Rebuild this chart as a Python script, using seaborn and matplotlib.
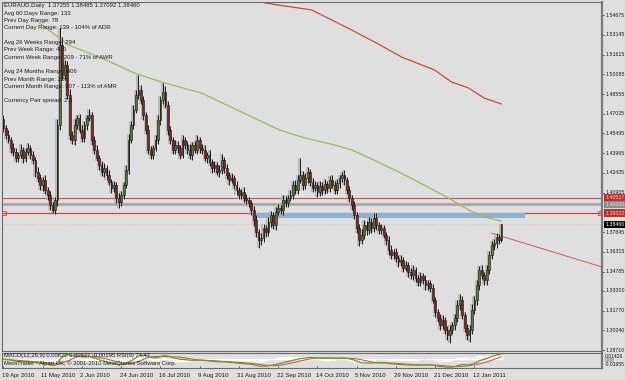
import numpy as np
import pandas as pd
import matplotlib
matplotlib.use("Agg")
import matplotlib.pyplot as plt
import seaborn as sns
from matplotlib.patches import Rectangle

# ---------------- data ----------------
first_open = 1.4660
closes = [
    1.4592, 1.4538, 1.4499, 1.4437, 1.4406, 1.4360, 1.4383, 1.4422, 1.4360, 1.4406,
    1.4437, 1.4383, 1.4344, 1.4251, 1.4205, 1.4150, 1.4189, 1.4112, 1.4073, 1.3995,
    1.3957, 1.4034, 1.4615, 1.5235, 1.5003, 1.5080, 1.4848, 1.4538, 1.4499, 1.4615,
    1.4670, 1.4577, 1.4515, 1.4615, 1.4670, 1.4693, 1.4499, 1.4422, 1.4360, 1.4305,
    1.4251, 1.4282, 1.4228, 1.4174, 1.4127, 1.4150, 1.4050, 1.4019, 1.4073, 1.4150,
    1.4267, 1.4499, 1.4615, 1.4732, 1.4848, 1.4887, 1.4809, 1.4693, 1.4577, 1.4422,
    1.4383, 1.4437, 1.4499, 1.4654, 1.4809, 1.4871, 1.4770, 1.4577, 1.4499, 1.4422,
    1.4460, 1.4437, 1.4383, 1.4499, 1.4460, 1.4422, 1.4383, 1.4460, 1.4422, 1.4499,
    1.4437, 1.4422, 1.4360, 1.4383, 1.4329, 1.4282, 1.4305, 1.4251, 1.4267, 1.4344,
    1.4282, 1.4228, 1.4189, 1.4205, 1.4150, 1.4112, 1.4073, 1.4096, 1.4050, 1.4034,
    1.4011, 1.3957, 1.3879, 1.3786, 1.3724, 1.3740, 1.3817, 1.3786, 1.3864, 1.3918,
    1.3840, 1.3941, 1.3972, 1.3957, 1.4034, 1.4011, 1.4050, 1.4073, 1.4150, 1.4112,
    1.4189, 1.4228, 1.4150, 1.4205, 1.4251, 1.4174, 1.4127, 1.4150, 1.4096, 1.4143,
    1.4112, 1.4158, 1.4127, 1.4189, 1.4150, 1.4112, 1.4166, 1.4205, 1.4228, 1.4189,
    1.4112, 1.4050, 1.3995, 1.3918, 1.3817, 1.3724, 1.3763, 1.3840, 1.3802, 1.3864,
    1.3817, 1.3895, 1.3840, 1.3802, 1.3817, 1.3763, 1.3724, 1.3647, 1.3608, 1.3631,
    1.3585, 1.3554, 1.3569, 1.3507, 1.3530, 1.3476, 1.3453, 1.3492, 1.3430, 1.3399,
    1.3445, 1.3414, 1.3375, 1.3391, 1.3352, 1.3259, 1.3166, 1.3120, 1.3065, 1.3104,
    1.3027, 1.2988, 1.3027, 1.3065, 1.3120, 1.3220, 1.3259, 1.3143, 1.3042, 1.2988,
    1.3027, 1.3182, 1.3259, 1.3375, 1.3492, 1.3453, 1.3414, 1.3492, 1.3608, 1.3685,
    1.3700, 1.3745, 1.37255, 1.38460,
]
upper_wick_pips = [
    30, 25, 40, 20, 35, 30, 25, 45, 20, 30,
    35, 20, 30, 25, 40, 30, 20, 35, 25, 30,
    20, 25, 45, 132, 60, 40, 35, 50, 30, 45,
    25, 30, 40, 35, 20, 45, 25, 30, 35, 20,
    30, 40, 25, 35, 20, 30, 25, 35, 30, 20,
    35, 45, 30, 40, 35, 116, 40, 30, 25, 35,
    30, 20, 40, 35, 30, 70, 45, 35, 30, 25,
    40, 30, 25, 35, 20, 30, 45, 25, 30, 35,
    25, 30, 40, 20, 35, 25, 30, 20, 35, 45,
    25, 30, 20, 35, 25, 30, 20, 25, 35, 30,
    20, 25, 30, 35, 25, 40, 30, 25, 35, 30,
    25, 35, 30, 20, 40, 30, 25, 35, 30, 40,
    35, 131, 30, 40, 35, 25, 30, 35, 25, 40,
    30, 35, 25, 30, 40, 35, 30, 25, 23, 35,
    25, 30, 20, 35, 25, 30, 45, 40, 30, 35,
    30, 40, 35, 25, 30, 20, 25, 30, 35, 25,
    30, 20, 35, 25, 30, 20, 30, 35, 25, 20,
    30, 25, 35, 20, 25, 30, 20, 25, 30, 35,
    25, 30, 35, 20, 30, 40, 45, 30, 25, 30,
    35, 45, 30, 40, 30, 35, 25, 40, 30, 35,
    30, 35, 25, 3,
]
lower_wick_pips = [
    30, 35, 25, 40, 30, 35, 30, 25, 40, 30,
    25, 35, 30, 40, 30, 35, 45, 30, 40, 35,
    24, 30, 44, 35, 40, 30, 35, 40, 30, 35,
    30, 25, 35, 30, 40, 25, 35, 30, 25, 40,
    30, 35, 40, 25, 35, 30, 40, 47, 35, 30,
    25, 30, 20, 30, 25, 35, 30, 40, 35, 30,
    35, 30, 25, 30, 35, 30, 25, 40, 30, 35,
    30, 40, 35, 25, 30, 35, 30, 40, 25, 30,
    35, 30, 25, 40, 30, 35, 30, 25, 35, 30,
    40, 30, 35, 25, 30, 40, 35, 30, 35, 30,
    35, 40, 45, 35, 62, 40, 30, 35, 30, 40,
    30, 35, 25, 30, 40, 30, 35, 25, 30, 35,
    30, 25, 35, 30, 40, 35, 30, 25, 35, 30,
    40, 30, 35, 30, 25, 35, 30, 40, 30, 35,
    30, 35, 40, 30, 35, 45, 30, 35, 40, 30,
    35, 30, 40, 35, 30, 25, 35, 40, 30, 35,
    30, 40, 35, 30, 25, 35, 30, 40, 35, 30,
    35, 30, 40, 35, 30, 25, 35, 30, 40, 30,
    35, 40, 62, 30, 35, 30, 40, 35, 30, 40,
    54, 35, 30, 40, 35, 30, 40, 35, 30, 35,
    40, 35, 30, 16,
]

date_labels = ["19 Apr 2010", "11 May 2010", "2 Jun 2010", "24 Jun 2010", "16 Jul 2010",
               "9 Aug 2010", "31 Aug 2010", "22 Sep 2010", "14 Oct 2010", "5 Nov 2010",
               "29 Nov 2010", "21 Dec 2010", "12 Jan 2011"]
date_label_bars = [0, 16, 32, 48, 64, 80, 96, 112, 128, 144, 160, 176, 192]

green_ma_bars = [14.7, 26.5, 40, 53.4, 64.4, 80.7, 97, 112.5, 121.5, 135, 142, 151, 162, 173, 181.4, 189.6, 196, 203]
green_ma_vals = [1.5406, 1.5235, 1.5134, 1.5018, 1.4948, 1.4863, 1.4716, 1.4577, 1.4522, 1.4460,
                 1.4422, 1.4344, 1.4243, 1.4135, 1.4049, 1.3957, 1.3902, 1.3871]
red_ma_bars = [106.4, 125.6, 141.9, 152, 162.3, 175.7, 182.6, 189.6, 196, 203]
red_ma_vals = [1.5561, 1.5507, 1.5352, 1.5251, 1.5142, 1.5042, 1.4949, 1.4902, 1.4824, 1.4778]

trend_bars = [199, 244]
trend_vals = [1.3777, 1.3515]

price_ticks = [1.54675, 1.53145, 1.51615, 1.50085, 1.48555, 1.47025, 1.45495, 1.43965,
               1.42435, 1.40905, 1.37845, 1.36315, 1.34785, 1.33300, 1.31770, 1.30240, 1.28710]
level_red_top = 1.40517
level_grey = 1.40000
level_red_low = 1.39322
level_band_low = 1.38920
band_bars = [101.5, 212.6]
last_price = 1.38460

info_lines = [
    "EURAUD,Daily  1.37255 1.38485 1.37092 1.38460",
    "Avg 60 Days Range: 133",
    "Prev Day Range: 78",
    "Current Day Range: 139 - 104% of ADR",
    "",
    "Avg 26 Weeks Range: 294",
    "Prev Week Range: 410",
    "Current Week Range: 209 - 71% of AWR",
    "",
    "Avg 24 Months Range: 806",
    "Prev Month Range: 226",
    "Current Month Range: 907 - 113% of AMR",
    "",
    "Currency Pair spread: 2.5",
]

# ---------------- derived ----------------
opens = [first_open] + closes[:-1]
df = pd.DataFrame({"bar": np.arange(len(closes)), "open": opens, "close": closes})
df["high"] = np.maximum(df["open"], df["close"]) + np.array(upper_wick_pips) / 1e4
df["low"] = np.minimum(df["open"], df["close"]) - np.array(lower_wick_pips) / 1e4
df["up"] = df["close"] >= df["open"]

ema12 = df["close"].ewm(span=12, adjust=False).mean()
ema26 = df["close"].ewm(span=26, adjust=False).mean()
df["macd"] = ema12 - ema26
df["signal"] = df["macd"].rolling(9, min_periods=1).mean()
df["histo"] = df["macd"] - df["signal"]

# ---------------- styling ----------------
sns.set_style("white")
plt.rcParams["font.family"] = ["Liberation Sans", "DejaVu Sans"]
BG = "#dfdfdf"
TXT = "#1c1c1c"
W, H = 625, 380
fig = plt.figure(figsize=(W / 100, H / 100), dpi=100, facecolor=BG)

def fx(px):
    return px / W

def fy(py):
    return 1 - py / H

ax = fig.add_axes([fx(2), fy(351), fx(600), 349 / H], facecolor=BG)
axm = fig.add_axes([fx(2), fy(368), fx(600), 15 / H], facecolor=BG)

x_lo, x_hi = -0.61, 244.0
y_hi, y_lo = 1.55685, 1.286375
ax.set_xlim(x_lo, x_hi)
ax.set_ylim(y_lo, y_hi)
axm.set_xlim(x_lo, x_hi)

# info text (behind candles)
for k, line in enumerate(info_lines):
    fig.text(fx(4), fy(6 + k * 7.3), line, fontsize=4.3, color=TXT,
             va="center", ha="left", zorder=0)

# horizontal levels
ax.axhline(level_red_top, color="#c85050", lw=0.8, zorder=2)
ax.axhline(level_grey, color="#a8a8a8", lw=2.0, zorder=2)
ax.axhline(level_red_low, color="#c84848", lw=0.9, zorder=2)
ax.axhline(last_price, color="#d8b890", lw=0.6, ls=(0, (1, 1.5)), zorder=2)
ax.plot([x_lo + 0.9, x_hi - 0.9], [level_red_low, level_red_low], ls="none",
        marker="s", ms=2.2, mfc="none", mec="#c84848", mew=0.6, zorder=3)
ax.add_patch(Rectangle((band_bars[0], level_band_low), band_bars[1] - band_bars[0],
                       level_red_low - level_band_low - 0.0002, facecolor="#8eb1d3",
                       edgecolor="none", zorder=2))

# moving averages & trendline via seaborn
sns.lineplot(x=green_ma_bars, y=green_ma_vals, ax=ax, color="#9cb860", lw=0.9, zorder=3)
sns.lineplot(x=red_ma_bars, y=red_ma_vals, ax=ax, color="#c84a3c", lw=0.9, zorder=3)
sns.lineplot(x=trend_bars, y=trend_vals, ax=ax, color="#d05555", lw=0.7, zorder=3)

# ghost bars, wicks and bodies
ax.vlines(df["bar"] - 0.42, df["low"], df["high"], color="#b0b0b0", lw=1.1, zorder=3)
ax.vlines(df["bar"], df["low"], df["high"], color="#1e1e1e", lw=0.7, zorder=4)
body_lo = np.minimum(df["open"], df["close"])
body_h = np.maximum(np.abs(df["close"] - df["open"]), 0.00025)
ax.bar(df["bar"], body_h, bottom=body_lo, width=0.72,
       color=np.where(df["up"], "#557a30", "#8c2020"), edgecolor="#151515",
       linewidth=0.4, zorder=5)

# right price scale
for p in price_ticks:
    ax.plot([1.0, 1.004], [p, p], transform=ax.get_yaxis_transform(),
            color="#444444", lw=0.6, clip_on=False)
    ax.text(1.0055, p, f"{p:.5f}", transform=ax.get_yaxis_transform(), fontsize=3.8,
            color=TXT, va="center", ha="left")

def tag(p, bg, fg):
    ax.text(1.0055, p, f"{p:.5f}", transform=ax.get_yaxis_transform(), fontsize=3.8,
            color=fg, va="center", ha="left", zorder=10,
            bbox=dict(boxstyle="square,pad=0.22", fc=bg, ec="none"))

tag(level_red_top, "#c0302a", "#f0d0d0")
tag(level_grey, "#8a8a8a", "#e8e8e8")
tag(level_red_low, "#c0302a", "#f0d0d0")
tag(last_price, "#000000", "#ffffff")

# MACD panel
axm.set_ylim(-0.01955, 0.01426)
axm.bar(df["bar"], df["histo"], width=0.7, color="#bdbdbd", zorder=2)
sns.lineplot(x=df["bar"], y=df["signal"], ax=axm, color="#cc4a4a", lw=0.7, zorder=3)
sns.lineplot(x=df["bar"], y=df["macd"], ax=axm, color="#6a9a20", lw=0.9, zorder=4)

# axes cosmetics
for a in (ax, axm):
    for s in a.spines.values():
        s.set_color("#6a6a6a")
        s.set_linewidth(0.8)
    a.spines["right"].set_color("#7a7a7a")
    a.spines["right"].set_linewidth(1.6)
    a.tick_params(left=False, bottom=False, labelleft=False, labelbottom=False,
                  right=False, labelright=False)
    a.set_xlabel("")
    a.set_ylabel("")

fig.text(fx(4), fy(356), "MACD(12,26,9) 0.00822 0.00627 -0.00195 RSI(9) 74.47",
         fontsize=4.2, color=TXT, va="center", ha="left")
fig.text(fx(4), fy(363.5), "MetaTrader - Alpari UK, \u00a9 2001-2010 MetaQuotes Software Corp.",
         fontsize=4.2, color=TXT, va="center", ha="left")
fig.text(fx(605), fy(357), "0.01426", fontsize=3.6, color=TXT, va="center", ha="left")
fig.text(fx(605), fy(360.5), "0.00", fontsize=3.6, color="#555555", va="center", ha="left")
fig.text(fx(605), fy(364.5), "-0.01955", fontsize=3.6, color=TXT, va="center", ha="left")

# date labels
for b, lab in zip(date_label_bars, date_labels):
    xf = fx(3.5 + 2.453 * b - 1.5)
    fig.text(xf, fy(375.5), lab, fontsize=4.3, color=TXT, va="center", ha="left")
    axm.plot([b, b], [0, 0.12], transform=axm.get_xaxis_transform(), color="#444444",
             lw=0.5, clip_on=False)

fig.savefig("out.png", dpi=100, facecolor=BG)
